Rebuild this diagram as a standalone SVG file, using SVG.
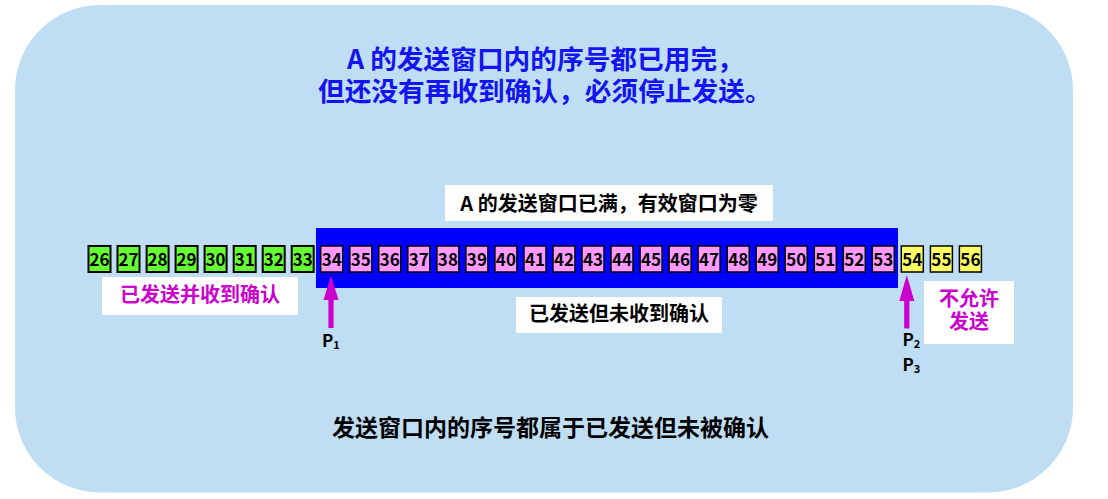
<svg xmlns="http://www.w3.org/2000/svg" width="1108" height="499" viewBox="0 0 1108 499">
<style>
.cjk{font-family:"Noto Sans CJK SC","Noto Sans",sans-serif;font-weight:bold}
.num{font-family:"Noto Sans CJK SC","Noto Sans",sans-serif;font-weight:bold;font-size:17px;text-anchor:middle;fill:#000}
.g{fill:#66FF33;stroke:#000;stroke-width:2}
.p{fill:#FF99FF;stroke:#000;stroke-width:1.5}
.y{fill:#FFFF66;stroke:#000;stroke-width:1.5}
.lbl{fill:#fff}
.mag{fill:#CC00CC}
.arrow{fill:#CC00CC}
</style>
<rect id="background" x="15" y="5" width="1058" height="487.5" rx="85" ry="85" fill="#BFDEF3"/>
<g id="title" class="cjk" fill="#1414f0" font-size="26.7">
<text x="347" y="69">A 的发送窗口内的序号都已用完，</text>
<text x="318" y="101">但还没有再收到确认，必须停止发送。</text>
</g>
<rect id="window" x="316" y="228" width="582" height="60" fill="#0000FF"/>
<g id="label-full">
<rect class="lbl" x="445" y="185" width="328" height="36"/>
<text class="cjk" x="609" y="211" font-size="20" text-anchor="middle" fill="#000">A 的发送窗口已满，有效窗口为零</text>
</g>
<g id="label-acked">
<rect class="lbl" x="102" y="277" width="196" height="38"/>
<text class="cjk mag" x="200" y="302" font-size="20" text-anchor="middle">已发送并收到确认</text>
</g>
<g id="label-unacked">
<rect class="lbl" x="516" y="297" width="206" height="36"/>
<text class="cjk" x="619" y="321" font-size="20" text-anchor="middle" fill="#000">已发送但未收到确认</text>
</g>
<g id="label-notallowed">
<rect class="lbl" x="924" y="281" width="90" height="63"/>
<text class="cjk mag" x="969" y="306" font-size="20" text-anchor="middle">不允许</text>
<text class="cjk mag" x="969" y="329" font-size="20" text-anchor="middle">发送</text>
</g>
<g id="n26"><rect class="g" x="88.5" y="246" width="22" height="26"/><text class="num" x="99.5" y="266">26</text></g>
<g id="n27"><rect class="g" x="117.5" y="246" width="22" height="26"/><text class="num" x="128.5" y="266">27</text></g>
<g id="n28"><rect class="g" x="146.6" y="246" width="22" height="26"/><text class="num" x="157.6" y="266">28</text></g>
<g id="n29"><rect class="g" x="175.6" y="246" width="22" height="26"/><text class="num" x="186.6" y="266">29</text></g>
<g id="n30"><rect class="g" x="204.6" y="246" width="22" height="26"/><text class="num" x="215.6" y="266">30</text></g>
<g id="n31"><rect class="g" x="233.7" y="246" width="22" height="26"/><text class="num" x="244.7" y="266">31</text></g>
<g id="n32"><rect class="g" x="262.7" y="246" width="22" height="26"/><text class="num" x="273.7" y="266">32</text></g>
<g id="n33"><rect class="g" x="291.7" y="246" width="22" height="26"/><text class="num" x="302.7" y="266">33</text></g>
<g id="n34"><rect class="p" x="320.7" y="246" width="22" height="26"/><text class="num" x="331.7" y="266">34</text></g>
<g id="n35"><rect class="p" x="349.8" y="246" width="22" height="26"/><text class="num" x="360.8" y="266">35</text></g>
<g id="n36"><rect class="p" x="378.8" y="246" width="22" height="26"/><text class="num" x="389.8" y="266">36</text></g>
<g id="n37"><rect class="p" x="407.8" y="246" width="22" height="26"/><text class="num" x="418.8" y="266">37</text></g>
<g id="n38"><rect class="p" x="436.9" y="246" width="22" height="26"/><text class="num" x="447.9" y="266">38</text></g>
<g id="n39"><rect class="p" x="465.9" y="246" width="22" height="26"/><text class="num" x="476.9" y="266">39</text></g>
<g id="n40"><rect class="p" x="494.9" y="246" width="22" height="26"/><text class="num" x="505.9" y="266">40</text></g>
<g id="n41"><rect class="p" x="524.0" y="246" width="22" height="26"/><text class="num" x="535.0" y="266">41</text></g>
<g id="n42"><rect class="p" x="553.0" y="246" width="22" height="26"/><text class="num" x="564.0" y="266">42</text></g>
<g id="n43"><rect class="p" x="582.0" y="246" width="22" height="26"/><text class="num" x="593.0" y="266">43</text></g>
<g id="n44"><rect class="p" x="611.0" y="246" width="22" height="26"/><text class="num" x="622.0" y="266">44</text></g>
<g id="n45"><rect class="p" x="640.1" y="246" width="22" height="26"/><text class="num" x="651.1" y="266">45</text></g>
<g id="n46"><rect class="p" x="669.1" y="246" width="22" height="26"/><text class="num" x="680.1" y="266">46</text></g>
<g id="n47"><rect class="p" x="698.1" y="246" width="22" height="26"/><text class="num" x="709.1" y="266">47</text></g>
<g id="n48"><rect class="p" x="727.2" y="246" width="22" height="26"/><text class="num" x="738.2" y="266">48</text></g>
<g id="n49"><rect class="p" x="756.2" y="246" width="22" height="26"/><text class="num" x="767.2" y="266">49</text></g>
<g id="n50"><rect class="p" x="785.2" y="246" width="22" height="26"/><text class="num" x="796.2" y="266">50</text></g>
<g id="n51"><rect class="p" x="814.3" y="246" width="22" height="26"/><text class="num" x="825.3" y="266">51</text></g>
<g id="n52"><rect class="p" x="843.3" y="246" width="22" height="26"/><text class="num" x="854.3" y="266">52</text></g>
<g id="n53"><rect class="p" x="872.3" y="246" width="22" height="26"/><text class="num" x="883.3" y="266">53</text></g>
<g id="n54"><rect class="y" x="901.3" y="246" width="22" height="26"/><text class="num" x="912.3" y="266">54</text></g>
<g id="n55"><rect class="y" x="930.4" y="246" width="22" height="26"/><text class="num" x="941.4" y="266">55</text></g>
<g id="n56"><rect class="y" x="959.4" y="246" width="22" height="26"/><text class="num" x="970.4" y="266">56</text></g>
<g id="connectors">
<path class="arrow" d="M331 275.5 L338.5 300 L333.6 300 L333.6 328 L328.4 328 L328.4 300 L323.5 300 Z"/>
<path class="arrow" d="M906.8 275 L914.3 301 L909.4 301 L909.4 328.5 L904.2 328.5 L904.2 301 L899.3 301 Z"/>
</g>
<g id="pointers" class="cjk" fill="#000" font-size="17">
<text x="322" y="346.5">P<tspan font-size="11" dy="2">1</tspan></text>
<text x="902.5" y="345.5">P<tspan font-size="11" dy="2">2</tspan></text>
<text x="902.5" y="370.5">P<tspan font-size="11" dy="2">3</tspan></text>
</g>
<text id="footer" class="cjk" x="332" y="436" font-size="23" fill="#000">发送窗口内的序号都属于已发送但未被确认</text>
</svg>
